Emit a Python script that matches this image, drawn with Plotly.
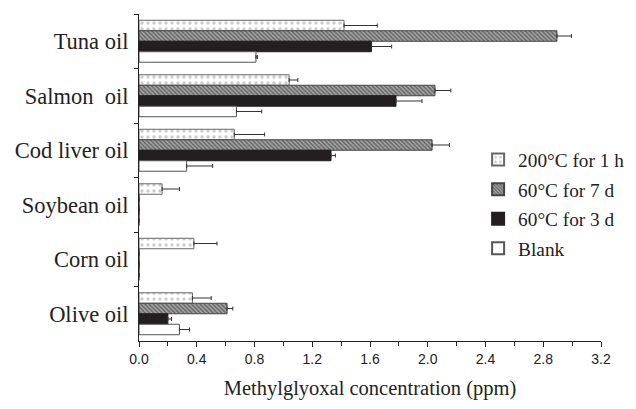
import plotly.graph_objects as go

categories = ["Tuna oil", "Salmon  oil", "Cod liver oil", "Soybean oil", "Corn oil", "Olive oil"]
series_names = ["200\u00b0C for 1 h", "60\u00b0C for 7 d", "60\u00b0C for 3 d", "Blank"]

v_200_1h = [1.42, 1.04, 0.66, 0.16, 0.38, 0.37]
e_200_1h = [0.23, 0.06, 0.21, 0.12, 0.16, 0.13]
v_60_7d = [2.895, 2.05, 2.03, 0.0, 0.0, 0.61]
e_60_7d = [0.10, 0.11, 0.12, 0.0, 0.0, 0.04]
v_60_3d = [1.61, 1.78, 1.33, 0.0, 0.0, 0.20]
e_60_3d = [0.14, 0.18, 0.03, 0.0, 0.0, 0.025]
v_blank = [0.81, 0.675, 0.33, 0.0, 0.0, 0.28]
e_blank = [0.01, 0.175, 0.18, 0.0, 0.0, 0.07]

x_ticks = [0.0, 0.4, 0.8, 1.2, 1.6, 2.0, 2.4, 2.8, 3.2]

serif = "Liberation Serif, Times New Roman, serif"
sans = "Liberation Sans, Arial, sans-serif"

styles = [
    dict(color="white", line=dict(color="#666", width=1),
         pattern=dict(shape=".", fgcolor="#999", bgcolor="white", size=6, solidity=0.25)),
    dict(color="#999", line=dict(color="#444", width=1),
         pattern=dict(shape="\\", fgcolor="#222", bgcolor="#a8a8a8", size=3, solidity=0.5)),
    dict(color="#231f20", line=dict(color="#231f20", width=1)),
    dict(color="white", line=dict(color="#555", width=1)),
]

values = [v_200_1h, v_60_7d, v_60_3d, v_blank]
errors = [e_200_1h, e_60_7d, e_60_3d, e_blank]

fig = go.Figure()
for i, (name, vals, errs, st) in enumerate(zip(series_names, values, errors, styles)):
    fig.add_trace(go.Bar(
        y=categories, x=vals, name=name, orientation="h",
        marker=st, legendgroup=f"g{i}",
        error_x=dict(type="data", array=errs, arrayminus=[0] * len(errs), symmetric=False,
                     color="#333", thickness=1, width=2),
    ))

fig.update_layout(
    width=628, height=401,
    margin=dict(l=131, r=25, t=6, b=68),
    paper_bgcolor="white", plot_bgcolor="white",
    barmode="group", bargap=0.23, bargroupgap=0,
    showlegend=True,
    legend=dict(x=0.734, y=0.613, xanchor="left", yanchor="top",
                font=dict(family=serif, size=19.3, color="#222"),
                bgcolor="rgba(0,0,0,0)", traceorder="grouped", tracegroupgap=1.5,
                itemsizing="constant"),
    xaxis=dict(range=[0, 3.2], tickvals=x_ticks, ticktext=[f"{t:.1f}" for t in x_ticks],
               ticks="outside", ticklen=5, tickcolor="#222", showline=True, linecolor="#222",
               linewidth=1, showgrid=False, zeroline=False, automargin=False,
               minor=dict(dtick=0.2, ticks="outside", ticklen=4, tickcolor="#222", showgrid=False),
               tickfont=dict(family=sans, size=14, color="#222"),
               title=dict(text="Methylglyoxal concentration (ppm)",
                          font=dict(family=serif, size=20.5, color="#222"), standoff=14)),
    yaxis=dict(type="category", categoryorder="array", categoryarray=categories,
               autorange="reversed", tickson="boundaries", ticks="outside", ticklen=4,
               tickcolor="#222", showline=True, linecolor="#222", linewidth=1,
               showgrid=False, zeroline=False, automargin=False, ticklabelstandoff=5,
               tickfont=dict(family=serif, size=22.5, color="#222")),
)

fig.write_html("out.html")
